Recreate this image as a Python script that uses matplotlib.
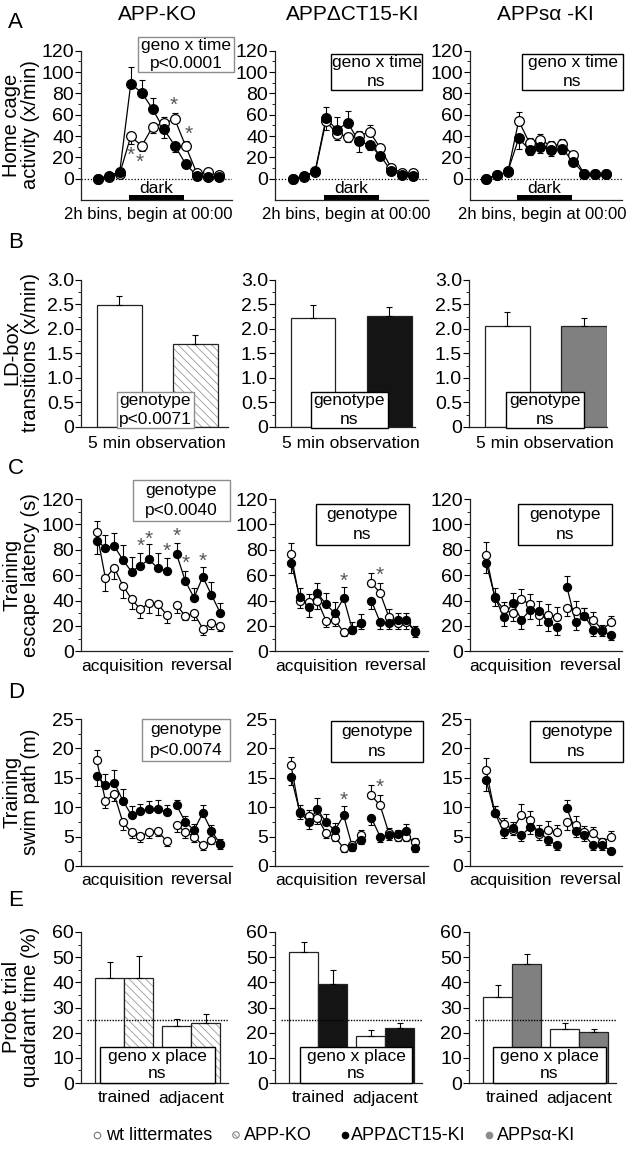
import matplotlib
matplotlib.use('Agg')
import matplotlib.pyplot as plt
from matplotlib.patches import Rectangle
from matplotlib.ticker import MultipleLocator, FuncFormatter, FixedLocator

plt.rcParams['font.family'] = ['Liberation Sans', 'DejaVu Sans']
plt.rcParams['hatch.linewidth'] = 0.6

# ---------------- data ----------------
titles = ["APP-KO", "APP\u0394CT15-KI", "APPs\u03b1 -KI"]

# A: home cage activity, 12 two-hour bins
bins = list(range(12))
a_wt = [[0, 2, 4.7, 39.6, 30.8, 48.9, 52, 55.8, 30.2, 5.3, 6, 3],
        [0, 2, 6, 54, 42, 39.5, 40, 44, 28.5, 9.9, 5.3, 5.3],
        [0, 3, 6, 54.3, 33.2, 36.3, 30.7, 32.5, 22, 4.6, 4.6, 4.6]]
a_wt_err = [[0, 1, 2, 7, 5, 6, 6, 6, 5, 2, 1, 1],
            [0, 1, 1, 8, 6, 5, 5, 6, 4, 2, 2, 1],
            [0, 1, 1, 8, 5, 6, 5, 5, 3, 1, 1, 1]]
a_mut = [[0, 2.8, 6.5, 88.8, 80.7, 65, 46.4, 31, 13.7, 2.8, 2, 2],
         [0, 2.8, 6.8, 56.6, 45.8, 52.6, 34.9, 31.8, 21.5, 6.8, 3.7, 2.2],
         [0, 3.1, 6.8, 37.8, 27, 30, 27, 28, 16, 4.6, 4.6, 4.6]]
a_mut_err = [[0, 1, 2, 16, 12, 11, 8, 6, 3, 1, 1, 1],
             [0, 1, 1, 11, 12, 11, 10, 5, 4, 2, 2, 1],
             [0, 1, 1, 10, 5, 6, 6, 5, 3, 1, 1, 1]]
a_stars = [[(3.0, 22), (3.85, 15), (6.9, 69), (8.3, 42)], [], []]
a_boxes = [["geno x time", "p<0.0001"], ["geno x time", "ns"], ["geno x time", "ns"]]

# B: LD-box transitions
b_wt = [2.49, 2.23, 2.07]
b_wt_err = [0.19, 0.25, 0.28]
b_mut = [1.69, 2.27, 2.07]
b_mut_err = [0.18, 0.17, 0.16]
b_boxes = [["genotype", "p<0.0071"], ["genotype", "ns"], ["genotype", "ns"]]

# C: escape latency, 9 acquisition + 6 reversal days
days = [0, 1, 2, 3, 4, 5, 6, 7, 8, 9.15, 10.15, 11.15, 12.15, 13.15, 14.15]
c_wt = [[94, 57.5, 66, 51.7, 41.2, 33, 38.3, 37.3, 29, 36.5, 27.8, 30, 18, 22.6, 20],
        [77, 40, 39, 40, 24, 24.7, 15, 17, 22, 54, 46, 27, 22.5, 23, 16],
        [76, 42, 33, 30, 41, 37, 28.5, 29, 27, 34, 32, 28, 25, 17, 23]]
c_wt_err = [[9, 10, 9, 10, 8, 7, 8, 9, 7, 6, 3, 5, 5, 5, 4],
            [8, 6, 6, 7, 5, 5, 3, 3, 4, 8, 8, 6, 5, 5, 4],
            [10, 6, 6, 6, 8, 8, 8, 8, 8, 6, 8, 6, 6, 4, 5]]
c_mut = [[87, 81.6, 83, 72, 62.7, 67.5, 72.4, 65.4, 63.5, 76.6, 55.4, 42.3, 58.8, 44.4, 30.4],
         [70, 43, 35, 46, 37, 30, 42, 17, 22.5, 40, 23, 22.5, 25, 25, 15],
         [70, 43, 27, 38, 25, 32.5, 32, 23, 19, 51, 23, 28, 17, 16, 13]]
c_mut_err = [[10, 10, 10, 12, 12, 10, 12, 12, 10, 9, 8, 8, 8, 10, 8],
             [8, 7, 8, 8, 9, 9, 9, 6, 7, 7, 5, 5, 5, 5, 4],
             [8, 7, 7, 8, 7, 7, 8, 7, 6, 8, 6, 6, 5, 4, 4]]
c_stars = [[(5, 83), (6, 88), (8, 78.5), (9.15, 91), (10.15, 69), (12.15, 70.6)],
           [(6, 55), (10.15, 60)], []]
c_boxes = [["genotype", "p<0.0040"], ["genotype", "ns"], ["genotype", "ns"]]

# D: swim path
d_wt = [[18, 11.1, 12.2, 7.4, 5.7, 5.1, 5.7, 6.0, 4.2, 7.0, 5.8, 5.0, 3.5, 4.5, 3.8],
        [17.2, 9.0, 8.5, 8.2, 5.6, 5.0, 3.0, 3.5, 5.3, 12.0, 10.3, 5.6, 5.0, 5.0, 4.0],
        [16.4, 9.0, 7.2, 6.2, 8.7, 7.8, 5.5, 6.2, 5.7, 7.4, 7.0, 5.8, 5.6, 4.0, 5.0]]
d_wt_err = [[1.8, 1.3, 1.2, 1.2, 1.0, 1.0, 0.9, 0.9, 0.8, 1.2, 1.0, 1.0, 0.8, 0.8, 0.8],
            [1.3, 1.0, 1.0, 1.0, 0.8, 0.8, 0.6, 0.6, 0.8, 1.8, 1.7, 0.8, 0.8, 0.8, 0.7],
            [2.0, 1.2, 1.0, 1.0, 1.8, 1.5, 1.0, 1.5, 1.3, 1.2, 1.5, 1.0, 1.0, 0.8, 1.0]]
d_mut = [[15.3, 13.8, 14.2, 11.1, 8.6, 9.3, 9.7, 9.7, 9.1, 10.3, 7.5, 6.1, 9.0, 6.0, 3.7],
         [15.2, 9.2, 7.5, 9.7, 7.4, 6.1, 8.6, 3.2, 4.5, 8.2, 5.0, 5.2, 5.4, 6.0, 3.0],
         [14.6, 9.0, 5.8, 6.5, 5.2, 6.6, 5.8, 4.5, 3.5, 9.8, 6.0, 5.2, 3.5, 3.5, 2.6]]
d_mut_err = [[1.7, 1.8, 2.2, 2.0, 1.6, 1.3, 1.4, 1.6, 1.2, 1.0, 1.0, 1.0, 1.3, 1.0, 0.8],
             [1.5, 1.2, 1.2, 1.8, 1.5, 1.2, 1.6, 0.6, 0.8, 1.2, 1.0, 0.8, 0.8, 1.2, 0.6],
             [1.8, 1.2, 1.0, 1.0, 1.0, 1.2, 1.2, 1.0, 0.8, 1.4, 1.0, 1.0, 0.8, 0.8, 0.6]]
d_stars = [[], [(6, 11.2), (10.15, 13.4)], []]
d_boxes = [["genotype", "p<0.0074"], ["genotype", "ns"], ["genotype", "ns"]]

# E: probe trial quadrant time (trained, adjacent)
e_wt = [[41.9, 22.8], [52, 18.7], [34.1, 21.5]]
e_wt_err = [[6.1, 2.6], [4, 2.4], [4.9, 2.2]]
e_mut = [[41.9, 24.0], [39.4, 22], [47.4, 20.1]]
e_mut_err = [[8.4, 3.4], [5.6, 1.7], [3.9, 1.4]]
e_boxes = [["geno x place", "ns"], ["geno x place", "ns"], ["geno x place", "ns"]]

legend_labels = ["wt littermates", "APP-KO", "APP\u0394CT15-KI", "APPs\u03b1-KI"]

# ---------------- layout helpers ----------------
W, H = 632, 1150
fig = plt.figure(figsize=(W / 100, H / 100), dpi=100)
TICK_FS = 14
LAB_FS = 12.5
mut_face = ['white', '#141414', '#808080']


def add_ax(l, t, r, b):
    return fig.add_axes([l / W, 1 - b / H, (r - l) / W, (b - t) / H])


def style(ax, major, minor, fmt=None, ticks=None, minors=None):
    for s in ['top', 'right']:
        ax.spines[s].set_visible(False)
    for s in ['left', 'bottom']:
        ax.spines[s].set_linewidth(0.9)
        ax.spines[s].set_color('#222222')
    ax.set_xticks([])
    if ticks is not None:
        ax.yaxis.set_major_locator(FixedLocator(ticks))
        ax.yaxis.set_minor_locator(FixedLocator(minors))
    else:
        ax.yaxis.set_major_locator(MultipleLocator(major))
        ax.yaxis.set_minor_locator(MultipleLocator(minor))
    ax.tick_params(axis='y', which='major', length=4, width=0.8, labelsize=TICK_FS, pad=1)
    ax.tick_params(axis='y', which='minor', length=2, width=0.6)
    if fmt:
        ax.yaxis.set_major_formatter(FuncFormatter(fmt))
    ax.patch.set_alpha(0)


def fbox(l, t, r, b, lines, ec):
    fig.add_artist(Rectangle((l / W, 1 - b / H), (r - l) / W, (b - t) / H,
                             transform=fig.transFigure, facecolor='white',
                             edgecolor=ec, linewidth=1.0, zorder=5))
    n = len(lines)
    step = (b - t) / n
    for i, s in enumerate(lines):
        y = t + step * (i + 0.5)
        fig.text((l + r) / 2 / W, 1 - y / H, s, ha='center', va='center',
                 fontsize=LAB_FS, zorder=6)


def ftext(x, y, s, **kw):
    fig.text(x / W, 1 - y / H, s, **kw)


def series(ax, x, y, err, other, face, ms):
    lo, hi = [], []
    for v, e, o in zip(y, err, other):
        if v >= o:
            lo.append(0); hi.append(e)
        else:
            lo.append(e); hi.append(0)
    ax.errorbar(x, y, yerr=[lo, hi], fmt='none', ecolor='k', elinewidth=0.8,
                capsize=2, capthick=0.8, zorder=3)
    ax.plot(x, y, '-', color='k', lw=0.9, zorder=3)
    ax.plot(x, y, 'o', mfc=face, mec='k', ms=ms, mew=0.9, zorder=4)


def line_panel(ax, x, wt, wt_err, mut, mut_err, ms, split=None):
    segs = [(0, len(x))] if split is None else [(0, split), (split, len(x))]
    for a, b in segs:
        series(ax, x[a:b], wt[a:b], wt_err[a:b], mut[a:b], 'white', ms)
    for a, b in segs:
        series(ax, x[a:b], mut[a:b], mut_err[a:b], wt[a:b], 'black', ms)


col_l = [81, 275, 470]
col_r = [232, 428, 622]
ecol = ['#8c8c8c', 'k', 'k']

# titles and panel letters
for cx, t in zip([157, 353, 545], titles):
    ftext(cx, 14, t, ha='center', va='center', fontsize=15)
for y, L in zip([22, 243, 468, 692, 900], "ABCDE"):
    ftext(8, y, L, ha='left', va='center', fontsize=16)

# y labels
for yc, s in zip([125, 353, 575, 792, 1007],
                 ["Home cage\nactivity (x/min)", "LD-box\ntransitions (x/min)",
                  "Training\nescape latency (s)", "Training\nswim path (m)",
                  "Probe trial\nquadrant time (%)"]):
    ftext(21, yc, s, ha='center', va='center', rotation=90, fontsize=14.5,
          linespacing=0.95, multialignment='center')

# ---------------- row A ----------------
a_xlims = [(-1.52, 12.2), (-1.68, 12.36), (-1.47, 12.48)]
a_boxpos = [(138, 37, 234, 72), (331, 54, 422, 90), (522, 54, 623, 90)]
a_lab_cx = [148, 346, 542]
for i in range(3):
    ax = add_ax(col_l[i], 50.7, col_r[i], 200)
    style(ax, 20, 10, ticks=list(range(0, 121, 20)), minors=list(range(10, 120, 20)))
    ax.set_ylim(-20, 120)
    ax.set_xlim(*a_xlims[i])
    ax.axhline(0, color='k', lw=0.9, ls=(0, (1, 1.5)), zorder=1)
    line_panel(ax, bins, a_wt[i], a_wt_err[i], a_mut[i], a_mut_err[i], 7)
    ax.broken_barh([(2.85, 5.0)], (-20, 4.4), facecolors='k', zorder=2)
    ax.text(5.35, -9.5, "dark", ha='center', va='center', fontsize=12.5)
    for sx, sy in a_stars[i]:
        ax.text(sx, sy, "*", ha='center', va='center', fontsize=15, color='#555555')
    ftext(a_lab_cx[i], 215, "2h bins, begin at 00:00",
          ha='center', va='center', fontsize=12)
    fbox(*a_boxpos[i], a_boxes[i], ecol[i])

# ---------------- row B ----------------
b_ax = [(81, 228, 1.43), (275, 415, 1.34), (469, 607, 1.3)]
b_boxpos = [(117, 392, 194, 428), (311, 392, 388, 428), (506, 392, 584, 428)]
for i in range(3):
    l, r, xr = b_ax[i]
    ax = add_ax(l, 280, r, 427)
    style(ax, 0.5, 0.25, lambda v, p: "0" if abs(v) < 1e-9 else f"{v:.1f}")
    ax.set_ylim(0, 3.0)
    ax.set_xlim(-0.5, xr)
    ax.bar([0], [b_wt[i]], width=0.59, color='white', edgecolor='#222222', lw=0.9,
           yerr=[[0], [b_wt_err[i]]], capsize=2.5,
           error_kw=dict(elinewidth=0.8, capthick=0.8), zorder=2)
    if i == 0:
        ax.bar([1], [b_mut[i]], width=0.59, color='white', edgecolor='#9a9a9a',
               hatch='\\\\\\\\', lw=0, zorder=2)
        ax.bar([1], [b_mut[i]], width=0.59, color='none', edgecolor='#222222', lw=0.9,
               yerr=[[0], [b_mut_err[i]]], capsize=2.5,
               error_kw=dict(elinewidth=0.8, capthick=0.8), zorder=3)
    else:
        ax.bar([1], [b_mut[i]], width=0.59, color=mut_face[i], edgecolor='#222222', lw=0.9,
               yerr=[[0], [b_mut_err[i]]], capsize=2.5,
               error_kw=dict(elinewidth=0.8, capthick=0.8), zorder=2)
    ftext((l + 38 + l + 114) / 2, 443, "5 min observation", ha='center', va='center',
          fontsize=LAB_FS)
    fbox(*b_boxpos[i], b_boxes[i], ecol[i])

# ---------------- rows C and D ----------------
cd_xlims = [(-1.8, 15.5), (-1.82, 15.6), (-1.82, 15.4)]
c_boxpos = [(133, 480, 230, 521), (316, 504, 409, 545), (518, 504, 612, 545)]
d_boxpos = [(142, 719, 230, 761), (331, 721, 423, 762), (530, 721, 623, 762)]
rows = [(499, 651.4, 120, 20, 10, c_wt, c_wt_err, c_mut, c_mut_err, c_stars, c_boxpos, c_boxes, 666),
        (719, 866, 25, 5, 2.5, d_wt, d_wt_err, d_mut, d_mut_err, d_stars, d_boxpos, d_boxes, 880)]
for (top, bot, ymax, maj, mnr, wt, wte, mu, mue, stars, boxpos, boxes, ylab) in rows:
    for i in range(3):
        ax = add_ax(col_l[i], top, col_r[i], bot)
        style(ax, maj, mnr)
        ax.set_ylim(0, ymax)
        ax.set_xlim(*cd_xlims[i])
        line_panel(ax, days, wt[i], wte[i], mu[i], mue[i], 5.8, split=9)
        for sx, sy in stars[i]:
            ax.text(sx, sy, "*", ha='center', va='center', fontsize=15, color='#555555')
        ftext(col_l[i] + 41, ylab, "acquisition", ha='center', va='center', fontsize=LAB_FS)
        ftext(col_l[i] + 121, ylab, "reversal", ha='center', va='center', fontsize=LAB_FS)
        fbox(*boxpos[i], boxes[i], ecol[i])

# ---------------- row E ----------------
e_l = [81, 275, 469]
e_pos_wt = [1.0, 3.3]
e_pos_mut = [2.0, 4.3]
e_boxpos = [(100, 1047, 215, 1083), (300, 1047, 412, 1083), (493, 1047, 606, 1083)]
for i in range(3):
    l = e_l[i]
    ax = add_ax(l, 932, l + 147, 1083)
    style(ax, 10, 5)
    ax.set_ylim(0, 60)
    ax.set_xlim(0, 5.07)
    ax.bar(e_pos_wt, e_wt[i], width=1.0, color='white', edgecolor='#222222', lw=0.9,
           yerr=[[0, 0], e_wt_err[i]], capsize=2.5,
           error_kw=dict(elinewidth=0.8, capthick=0.8), zorder=2)
    if i == 0:
        ax.bar(e_pos_mut, e_mut[i], width=1.0, color='white', edgecolor='#9a9a9a',
               hatch='\\\\\\\\', lw=0, zorder=2)
        ax.bar(e_pos_mut, e_mut[i], width=1.0, color='none', edgecolor='#222222', lw=0.9,
               yerr=[[0, 0], e_mut_err[i]], capsize=2.5,
               error_kw=dict(elinewidth=0.8, capthick=0.8), zorder=3)
    else:
        ax.bar(e_pos_mut, e_mut[i], width=1.0, color=mut_face[i], edgecolor='#222222', lw=0.9,
               yerr=[[0, 0], e_mut_err[i]], capsize=2.5,
               error_kw=dict(elinewidth=0.8, capthick=0.8), zorder=2)
    ax.plot([0.2, 5.07], [25, 25], color='k', lw=1.0, ls=(0, (1, 1)), zorder=4)
    ftext(l + 43, 1098, "trained", ha='center', va='center', fontsize=LAB_FS)
    ftext(l + 110, 1098, "adjacent", ha='center', va='center', fontsize=LAB_FS)
    fbox(*e_boxpos[i], e_boxes[i], 'k')

# ---------------- legend ----------------
lax = fig.add_axes([0, 0, 1, 1])
lax.set_xlim(0, W)
lax.set_ylim(H, 0)
lax.axis('off')
LY = 1135
lax.scatter([97], [LY], s=22, facecolor='white', edgecolor='#777777', lw=0.8)
lax.scatter([236], [LY], s=22, facecolor='white', edgecolor='#888888', lw=0.8, hatch='\\\\\\')
lax.scatter([345], [LY], s=22, facecolor='black', edgecolor='black', lw=0.8)
lax.scatter([489], [LY], s=22, facecolor='#8a8a8a', edgecolor='#8a8a8a', lw=0.8)
for x, s in zip([106, 244, 351, 497], legend_labels):
    lax.text(x, LY, s, ha='left', va='center', fontsize=13)

fig.savefig('out.png', dpi=100)
